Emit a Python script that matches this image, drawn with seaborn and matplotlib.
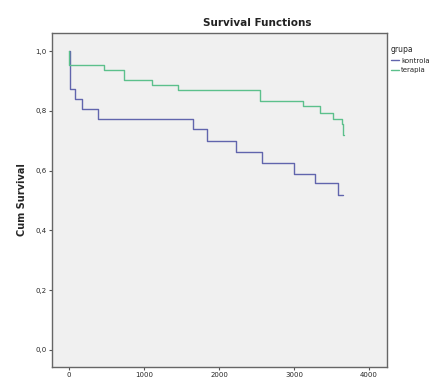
import pandas as pd
import matplotlib.pyplot as plt
import seaborn as sns

sns.set_style("ticks")
plt.rcParams['font.family'] = ['DejaVu Sans']

# ===============================
# Data
# ===============================
kontrola_t = [0, 10, 80, 173, 387, 1653, 1840, 2227, 2573, 3000, 3280, 3587, 3650]
kontrola_s = [1.0, 0.873, 0.84, 0.807, 0.773, 0.74, 0.70, 0.663, 0.627, 0.59, 0.557, 0.517, 0.517]

terapia_t = [0, 0, 467, 733, 1107, 1453, 2547, 3120, 3347, 3520, 3640, 3650, 3660]
terapia_s = [1.0, 0.953, 0.937, 0.903, 0.887, 0.870, 0.833, 0.817, 0.793, 0.773, 0.757, 0.72, 0.72]

groups = ["kontrola", "terapia"]
x_ticks = [0, 1000, 2000, 3000, 4000]
y_ticks = [0.0, 0.2, 0.4, 0.6, 0.8, 1.0]
y_tick_labels = ["0,0", "0,2", "0,4", "0,6", "0,8", "1,0"]

df = pd.concat([
    pd.DataFrame({"time": kontrola_t, "surv": kontrola_s, "grupa": groups[0]}),
    pd.DataFrame({"time": terapia_t, "surv": terapia_s, "grupa": groups[1]}),
], ignore_index=True)

# ===============================
# Plot
# ===============================
fig = plt.figure(figsize=(4.3, 3.85), dpi=100)
ax = fig.add_axes([0.121, 0.047, 0.779, 0.867])
ax.set_facecolor("#f0f0f0")

palette = {"kontrola": "#6165ad", "terapia": "#5cc08c"}
sns.lineplot(data=df, x="time", y="surv", hue="grupa", palette=palette,
             estimator=None, sort=False, drawstyle="steps-post",
             linewidth=1.0, ax=ax, legend=False)

ax.set_xlim(-227, 4240)
ax.set_ylim(-0.057, 1.06)
ax.set_xticks(x_ticks)
ax.set_xticklabels([str(t) for t in x_ticks])
ax.set_yticks(y_ticks)
ax.set_yticklabels(y_tick_labels)
ax.tick_params(labelsize=5, length=2.5, width=0.8, color="#555555", pad=1.5)
for sp in ax.spines.values():
    sp.set_color("#666666")
    sp.set_linewidth(1.0)

ax.set_xlabel("")
ax.set_ylabel("Cum Survival", fontsize=7, fontweight="bold", labelpad=6)

fig.text(0.598, 0.94, "Survival Functions", ha="center", va="center",
         fontsize=7.5, fontweight="bold", color="#222222")

handles = [plt.Line2D([], [], color=palette[g], lw=1.0) for g in groups]
fig.legend(handles, groups, title="grupa", loc="upper left",
           bbox_to_anchor=(0.897, 0.895), frameon=False, fontsize=5,
           title_fontsize=5.5, handlelength=1.2, handletextpad=0.3,
           labelspacing=0.5, borderpad=0.2, alignment="left")

plt.savefig("out.png", dpi=100)
